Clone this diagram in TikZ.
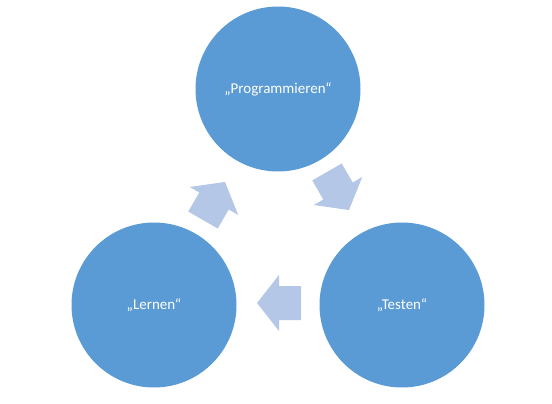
\documentclass[tikz,border=0pt]{standalone}
\usepackage{fontspec}
\setmainfont{Carlito}
\definecolor{circblue}{HTML}{5B9BD5}
\definecolor{arrblue}{HTML}{B4C7E7}
\begin{document}
\begin{tikzpicture}[x=1pt,y=-1pt,
  stage/.style={circle,fill=circblue,minimum size=165pt,inner sep=0pt,text=white,font=\fontsize{15}{18}\selectfont},
  cyclearrow/.style={fill=arrblue,draw=none}]
\useasboundingbox (0,0) rectangle (552,404);
\node[stage] (prog) at (278,89) {„Programmieren“};
\node[stage] (lern) at (154,305) {„Lernen“};
\node[stage] (test) at (402,305) {„Testen“};
\coordinate (a1) at (214,201);
\coordinate (a2) at (338,191);
\coordinate (a3) at (279,303);
\foreach \c/\r in {a1/60,a2/-60,a3/180}{
  \begin{scope}[shift={(\c)},rotate=\r]
    \path[cyclearrow] (-22,-17) -- (0,-17) -- (0,-28) -- (22,0) -- (0,28) -- (0,17) -- (-22,17) -- cycle;
  \end{scope}
}
\end{tikzpicture}
\end{document}
